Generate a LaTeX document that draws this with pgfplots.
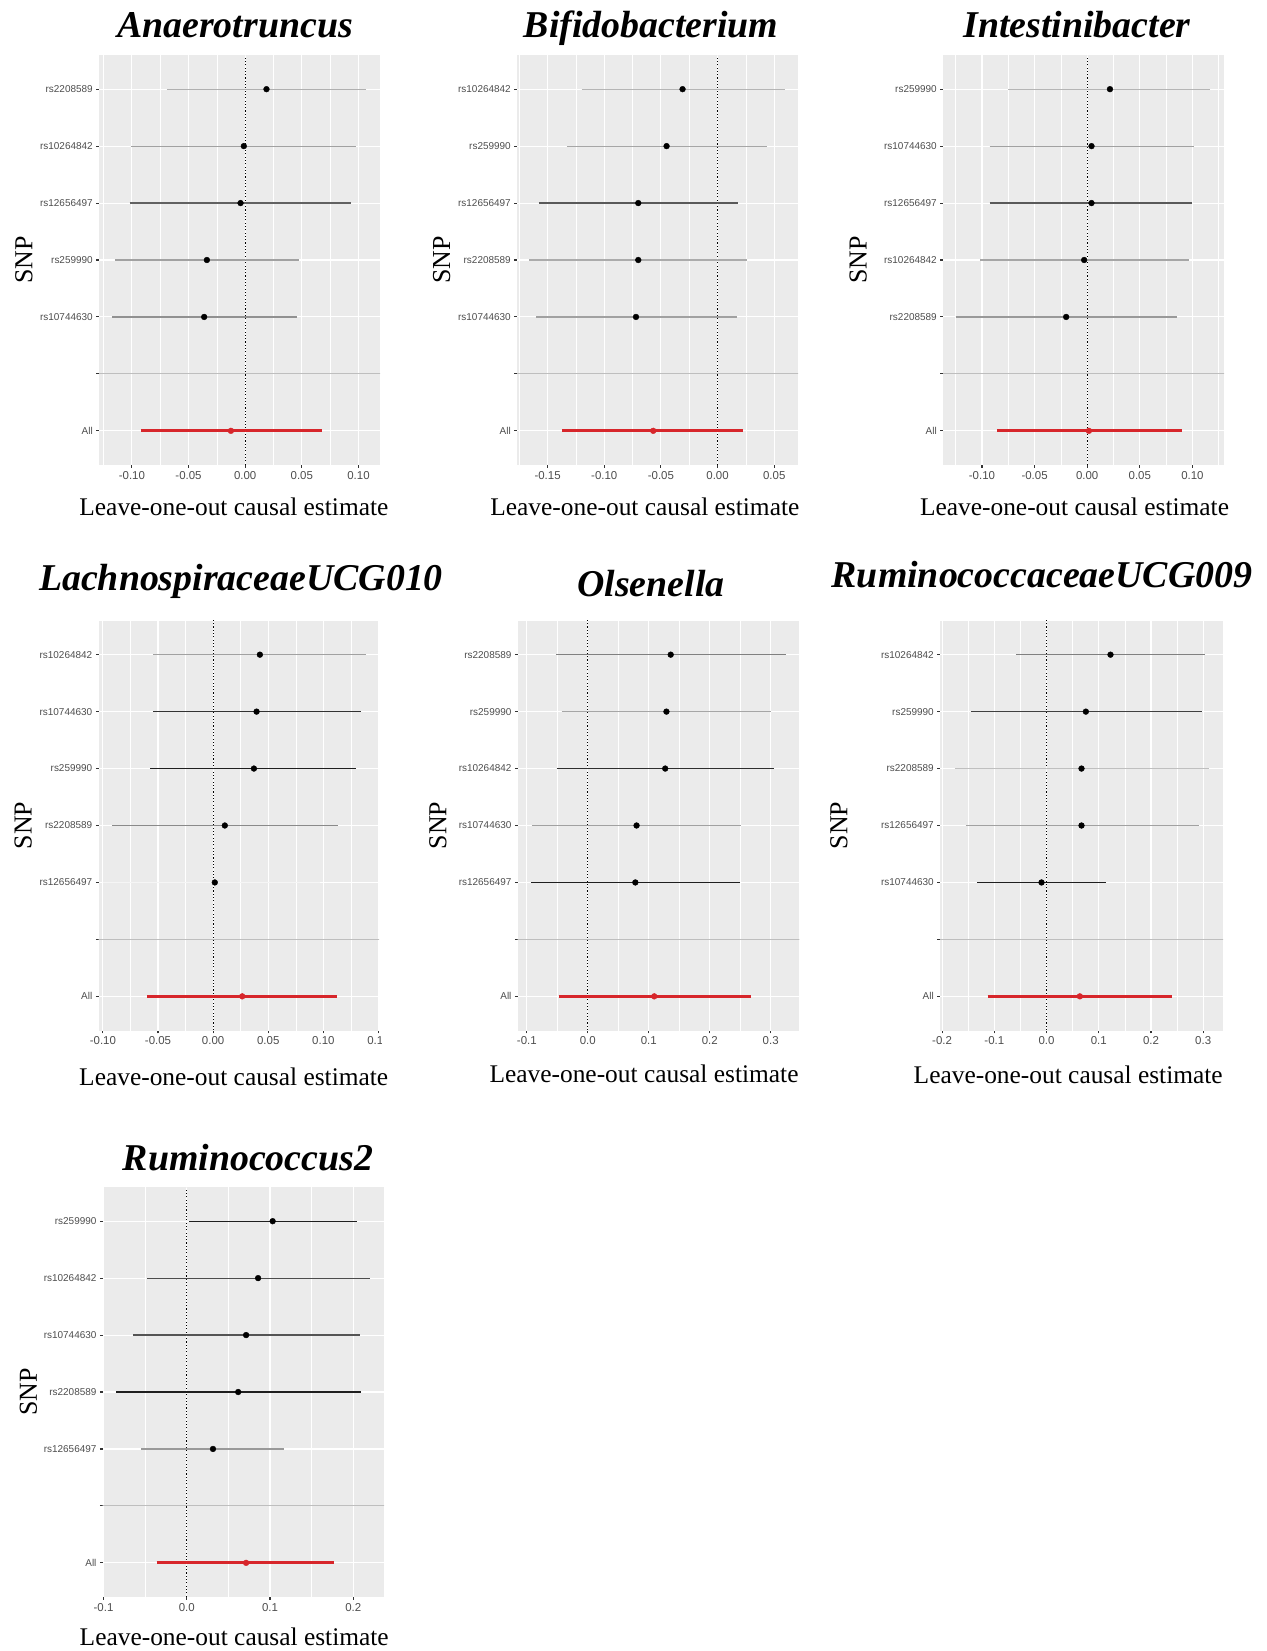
\documentclass[border=0pt]{standalone}
\usepackage{fontspec}
\setmainfont{Liberation Serif}
\setsansfont{Liberation Sans}
\usepackage{pgfplots}
\pgfplotsset{compat=1.18}

\definecolor{panelbg}{HTML}{EBEBEB}
\definecolor{tickgrey}{HTML}{333333}
\definecolor{labgrey}{HTML}{4D4D4D}
\definecolor{sepgrey}{HTML}{BEBEBE}
\definecolor{ggred}{HTML}{D7262B}

% one leave-one-out row: y level, lower, upper, estimate, line colour
\newcommand{\loorow}[5]{%
  \addplot[draw=#5, line width=1.2bp] coordinates {(#2,#1) (#3,#1)};
  \addplot[only marks, mark=*, mark size=2.9bp, black] coordinates {(#4,#1)};
}
% the pooled estimate over all SNPs
\newcommand{\allrow}[3]{%
  \addplot[draw=ggred, line width=3bp] coordinates {(#1,1) (#2,1)};
  \addplot[only marks, mark=*, mark size=2.9bp, ggred] coordinates {(#3,1)};
  \addplot[sepgrey, line width=1.1bp] coordinates {(-1,2) (1,2)};
}
\newcommand{\zeroline}{%
  \addplot[black, line width=1.1bp, dash pattern=on 1.1bp off 2.2bp] coordinates {(0,0) (0,8)};
}

\pgfplotsset{
  loo/.style={
    scale only axis, anchor=south west,
    ymin=0.4, ymax=7.6, ytick={1,...,7},
    axis background/.style={fill=panelbg},
    axis line style={draw=none},
    xmajorgrids, xminorgrids, ymajorgrids,
    major grid style={white, line width=1.1bp},
    minor grid style={white, line width=0.55bp},
    tick align=outside, xtick pos=left, ytick pos=left,
    major tick length=2.75bp, minor tick length=0bp,
    tick style={tickgrey, line width=1.1bp},
    xticklabel style={font=\sffamily\fontsize{11.5}{12}\selectfont, text=labgrey},
    yticklabel style={font=\sffamily\fontsize{10}{11}\selectfont, text=labgrey},
    xlabel={Leave-one-out causal estimate}, ylabel={SNP},
    xlabel style={font=\fontsize{25.5}{27}\selectfont, anchor=center},
    ylabel style={font=\fontsize{26}{27}\selectfont, anchor=center},
    clip=true,
  },
}
\tikzset{ttl/.style={font=\fontsize{38}{40}\selectfont\bfseries\itshape, anchor=base}}

\begin{document}
\begin{tikzpicture}
\path[use as bounding box] (0,0) rectangle (1267bp,-1651bp);

% ---- Anaerotruncus
\begin{axis}[loo, at={(99bp,-465bp)}, width=281bp, height=410bp,
  xmin=-0.129, xmax=0.119,
  xtick={-0.1,-0.05,0,0.05,0.1}, xticklabels={-0.10,-0.05,0.00,0.05,0.10},
  minor xtick={-0.125,-0.075,-0.025,0.025,0.075},
  yticklabels={All,{},rs10744630,rs259990,rs12656497,rs10264842,rs2208589},
  xlabel style={at={(axis description cs:0.48,-0.1024)}},
  ylabel style={at={(axis description cs:-0.267,0.5)}}]
\zeroline
\loorow{7}{-0.069}{0.107}{0.0188}{black!31}
\loorow{6}{-0.101}{0.098}{-0.0012}{black!37}
\loorow{5}{-0.102}{0.0935}{-0.0041}{black!62}
\loorow{4}{-0.115}{0.0476}{-0.0338}{black!37}
\loorow{3}{-0.1176}{0.0456}{-0.0362}{black!43}
\allrow{-0.092}{0.0676}{-0.0126}
\end{axis}
\node[ttl] at (235bp,-37bp) {Anaerotruncus};

% ---- Bifidobacterium
\begin{axis}[loo, at={(517bp,-465bp)}, width=281bp, height=410bp,
  xmin=-0.177, xmax=0.071,
  xtick={-0.15,-0.1,-0.05,0,0.05}, xticklabels={-0.15,-0.10,-0.05,0.00,0.05},
  minor xtick={-0.175,-0.125,-0.075,-0.025,0.025},
  yticklabels={All,{},rs10744630,rs2208589,rs12656497,rs259990,rs10264842},
  xlabel style={at={(axis description cs:0.455,-0.1024)}},
  ylabel style={at={(axis description cs:-0.268,0.5)}}]
\zeroline
\loorow{7}{-0.120}{0.0594}{-0.0309}{black!29}
\loorow{6}{-0.133}{0.0432}{-0.045}{black!35}
\loorow{5}{-0.1576}{0.0176}{-0.070}{black!65}
\loorow{4}{-0.166}{0.0256}{-0.070}{black!33}
\loorow{3}{-0.160}{0.0168}{-0.072}{black!37}
\allrow{-0.137}{0.0226}{-0.0568}
\end{axis}
\node[ttl] at (651bp,-37bp) {Bifidobacterium};

% ---- Intestinibacter
\begin{axis}[loo, at={(943bp,-465bp)}, width=281bp, height=410bp,
  xmin=-0.137, xmax=0.130,
  xtick={-0.1,-0.05,0,0.05,0.1}, xticklabels={-0.10,-0.05,0.00,0.05,0.10},
  minor xtick={-0.125,-0.075,-0.025,0.025,0.075,0.125},
  yticklabels={All,{},rs2208589,rs10264842,rs12656497,rs10744630,rs259990},
  xlabel style={at={(axis description cs:0.468,-0.1024)}},
  ylabel style={at={(axis description cs:-0.302,0.5)}}]
\zeroline
\loorow{7}{-0.075}{0.117}{0.0216}{black!29}
\loorow{6}{-0.0927}{0.101}{0.0041}{black!37}
\loorow{5}{-0.0927}{0.100}{0.0041}{black!65}
\loorow{4}{-0.1016}{0.097}{-0.0029}{black!35}
\loorow{3}{-0.125}{0.0857}{-0.020}{black!40}
\allrow{-0.0857}{0.0898}{0.0016}
\end{axis}
\node[ttl] at (1077bp,-37bp) {Intestinibacter};

% ---- LachnospiraceaeUCG010 (right edge of its figure is cut)
\begin{scope}
\clip (0,-540bp) rectangle (470bp,-612bp)
      (0,-612bp) rectangle (381.5bp,-1054bp)
      (0,-1054bp) rectangle (470bp,-1120bp);
\begin{axis}[loo, at={(98.5bp,-1030.5bp)}, width=280.5bp, height=410bp,
  xmin=-0.104, xmax=0.1505,
  xtick={-0.1,-0.05,0,0.05,0.1,0.15}, xticklabels={-0.10,-0.05,0.00,0.05,0.10,0.15},
  minor xtick={-0.075,-0.025,0.025,0.075,0.125},
  yticklabels={All,{},rs12656497,rs2208589,rs259990,rs10744630,rs10264842},
  xlabel style={at={(axis description cs:0.482,-0.112)}},
  ylabel style={at={(axis description cs:-0.269,0.5)}}]
\zeroline
\loorow{7}{-0.0545}{0.1388}{0.0424}{black!37}
\loorow{6}{-0.0545}{0.134}{0.0394}{black!80}
\loorow{5}{-0.057}{0.130}{0.037}{black!88}
\loorow{4}{-0.0915}{0.113}{0.0106}{black!46}
\loorow{3}{-0.100}{0.097}{0.0015}{black!4}
\allrow{-0.0597}{0.112}{0.0264}
\end{axis}
\node[ttl] at (241bp,-590bp) {LachnospiraceaeUCG010};
\end{scope}

% ---- Olsenella
\begin{axis}[loo, at={(517.7bp,-1030.5bp)}, width=281.6bp, height=410bp,
  xmin=-0.115, xmax=0.347,
  xtick={-0.1,0,0.1,0.2,0.3}, xticklabels={-0.1,0.0,0.1,0.2,0.3},
  minor xtick={-0.05,0.05,0.15,0.25},
  yticklabels={All,{},rs12656497,rs10744630,rs10264842,rs259990,rs2208589},
  xlabel style={at={(axis description cs:0.4485,-0.105)}},
  ylabel style={at={(axis description cs:-0.283,0.5)}}]
\zeroline
\loorow{7}{-0.052}{0.325}{0.136}{black!50}
\loorow{6}{-0.043}{0.301}{0.129}{black!35}
\loorow{5}{-0.051}{0.305}{0.127}{black!82}
\loorow{4}{-0.0917}{0.252}{0.080}{black!37}
\loorow{3}{-0.0933}{0.250}{0.078}{black!88}
\allrow{-0.048}{0.267}{0.109}
\end{axis}
\node[ttl] at (651bp,-596bp) {Olsenella};

% ---- RuminococcaceaeUCG009
\begin{axis}[loo, at={(940bp,-1030.5bp)}, width=283bp, height=410bp,
  xmin=-0.204, xmax=0.338,
  xtick={-0.2,-0.1,0,0.1,0.2,0.3}, xticklabels={-0.2,-0.1,0.0,0.1,0.2,0.3},
  minor xtick={-0.15,-0.05,0.05,0.15,0.25},
  yticklabels={All,{},rs10744630,rs12656497,rs2208589,rs259990,rs10264842},
  xlabel style={at={(axis description cs:0.453,-0.109)}},
  ylabel style={at={(axis description cs:-0.357,0.5)}}]
\zeroline
\loorow{7}{-0.0587}{0.303}{0.1225}{black!50}
\loorow{6}{-0.1455}{0.2968}{0.0753}{black!75}
\loorow{5}{-0.1755}{0.3114}{0.067}{black!25}
\loorow{4}{-0.1545}{0.2923}{0.067}{black!37}
\loorow{3}{-0.1327}{0.1136}{-0.0096}{black!88}
\allrow{-0.113}{0.2412}{0.0638}
\end{axis}
\node[ttl] at (1042bp,-587bp) {RuminococcaceaeUCG009};

% ---- Ruminococcus2
\begin{axis}[loo, at={(102.7bp,-1597bp)}, width=281.3bp, height=410bp,
  xmin=-0.101, xmax=0.237,
  xtick={-0.1,0,0.1,0.2}, xticklabels={-0.1,0.0,0.1,0.2},
  minor xtick={-0.05,0.05,0.15},
  yticklabels={All,{},rs12656497,rs2208589,rs10744630,rs10264842,rs259990},
  xlabel style={at={(axis description cs:0.4675,-0.0976)}},
  ylabel style={at={(axis description cs:-0.2645,0.5)}}]
\zeroline
\loorow{7}{0.0028}{0.204}{0.1032}{black!88}
\loorow{6}{-0.0482}{0.2199}{0.0857}{black!70}
\loorow{5}{-0.0645}{0.208}{0.0713}{black!67}
\loorow{4}{-0.0849}{0.2092}{0.0618}{black!88}
\loorow{3}{-0.0546}{0.1163}{0.0315}{black!40}
\allrow{-0.0363}{0.1773}{0.0713}
\end{axis}
\node[ttl] at (248bp,-1170bp) {Ruminococcus2};

\end{tikzpicture}
\end{document}
